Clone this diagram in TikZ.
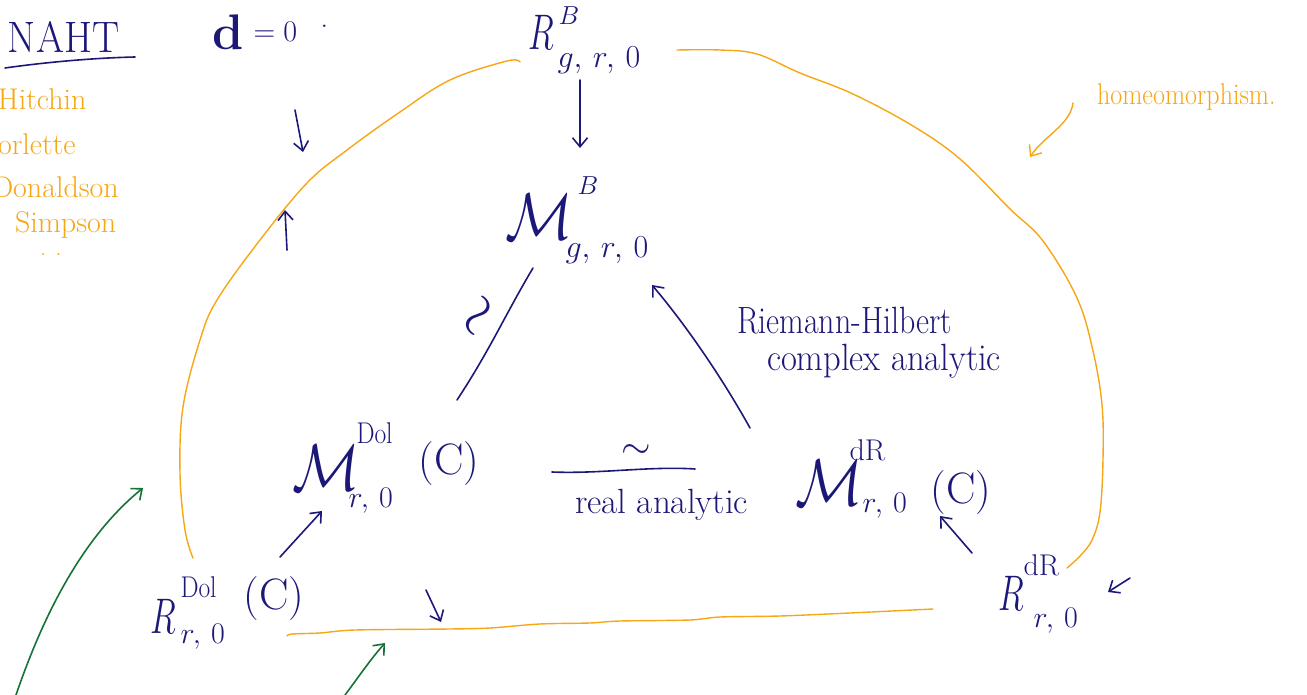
\RequirePackage{fix-cm}
\documentclass[tikz,border=0pt]{standalone}
\usepackage{fontspec}
\usepackage{graphicx}
\usetikzlibrary{arrows.meta}
\newcommand{\fz}[1]{\fontsize{#1}{#1}\selectfont}
% a piece of a label, placed dx right of and dy above the label's origin
\newcommand{\piece}[3]{\rlap{\hspace{#1pt}\raisebox{#2pt}{#3}}}
\newcommand{\bigR}{\scalebox{0.68}[1]{\fz{50}$R$}}
\newcommand{\bigM}{\scalebox{0.85}[1]{\fz{66}$\mathcal{M}$}}
\newcommand{\supB}{\fz{26}$B$}
\newcommand{\supDol}{\scalebox{0.85}[1]{\fz{30}Dol}}
\newcommand{\supdR}{\fz{30}dR}
\newcommand{\subgr}{\fz{32}$g,\,r,\,0$}
\newcommand{\subr}{\fz{30}$r,\,0$}
\newcommand{\cpx}{\fz{44}(C)}
\definecolor{ink}{RGB}{28,24,120}
\definecolor{hl}{RGB}{247,166,20}
\definecolor{gr}{RGB}{20,115,55}
\tikzset{
  lbl/.style={inner sep=0pt, outer sep=0pt, text=ink, anchor=base west},
  olist/.style={lbl, text=hl, font=\fz{30}},
  pen/.style={draw=ink, line width=1.6pt, line cap=round, line join=round},
  hpen/.style={draw=hl, line width=1.4pt, line cap=round, line join=round},
  gpen/.style={draw=gr, line width=1.6pt, line cap=round, line join=round},
  arr/.style={-{Straight Barb[length=9pt,width=15pt,line width=1.6pt]}},
}
\begin{document}
\begin{tikzpicture}[x=1pt,y=-1pt]
\useasboundingbox (0,0) rectangle (1307,695);
% ---- headings
\node[lbl] (naht) at (8,53) {\fz{44}\scalebox{0.92}[1]{NAHT}};
\draw[pen] (5,68) .. controls (40,63) and (90,58) .. (135,57);
\node[lbl] (d0) at (212,50) {\piece{0}{0}{\fz{50}\bfseries d}\piece{41}{8}{\fz{30}$=0$}\piece{108}{22}{\fz{30}.}\hspace{115pt}};
\node[olist] (hit) at (-2,110) {Hitchin};
\node[olist] (cor) at (-22,155) {Corlette};
\node[olist] (don) at (-8,198) {Donaldson};
\node[olist] (sim) at (15,233) {Simpson};
\node[olist, font=\fz{24}] (etc) at (40,256) {. .};
\node[lbl, text=hl] (homeo) at (1097,105) {\fz{30}\scalebox{0.87}[1]{homeomorphism.}};
% ---- main objects
\node[lbl] (RB) at (528,50) {\piece{0}{0}{\bigR}\piece{30}{25}{\supB}\piece{29}{-18}{\subgr}\hspace{115pt}};
\node[lbl] (MB) at (505,240) {\piece{0}{0}{\bigM}\piece{72}{45}{\supB}\piece{60}{-18}{\subgr}\hspace{155pt}};
\node[lbl] (MDol) at (292,490) {\piece{0}{0}{\bigM}\piece{64}{47}{\supDol}\piece{56}{-17}{\subr}\piece{126}{16}{\cpx}\hspace{190pt}};
\node[lbl] (MdR) at (795,505) {\piece{0}{0}{\bigM}\piece{54}{45}{\supdR}\piece{67}{-7}{\subr}\piece{135}{2}{\cpx}\hspace{190pt}};
\node[lbl] (RDol) at (150,633) {\piece{0}{0}{\bigR}\piece{30}{36}{\supDol}\piece{30}{-10}{\subr}\piece{93}{24}{\cpx}\hspace{145pt}};
\node[lbl] (RdR) at (998,610) {\piece{0}{0}{\bigR}\piece{25}{35}{\supdR}\piece{35}{-17}{\subr}\hspace{80pt}};
% ---- labels
\node[lbl] (rh) at (737,333) {\fz{38}\scalebox{0.84}[1]{Riemann-Hilbert}};
\node[lbl] (ca) at (767,370) {\fz{38}\scalebox{0.91}[1]{complex analytic}};
\node[lbl, font=\fz{35}] (ra) at (575,513) {real analytic};
\node[inner sep=0pt, text=ink, font=\fz{38}] (t1) at (636,452) {$\sim$};
\node[inner sep=0pt, text=ink, font=\fz{58}, rotate=60] (t2) at (482,318) {$\sim$};
% ---- connector end points
\coordinate (rb-s) at (580,80);
\coordinate (mb-n) at (580,148);
\coordinate (mb-sw) at (533,268);
\coordinate (mdol-ne) at (457,400);
\coordinate (mdr-n) at (750,428);
\coordinate (mb-se) at (652,285);
\coordinate (mdol-e) at (552,472);
\coordinate (mdr-w) at (695,469);
\coordinate (rdol-ne) at (280,557);
\coordinate (mdol-s) at (322,511);
\coordinate (rdr-nw) at (972,553);
\coordinate (mdr-s) at (940,516);
% ---- navy connectors
\draw[pen, arr] (rb-s) -- (mb-n);
\draw[pen] (mb-sw) .. controls (505,315) and (490,350) .. (mdol-ne);
\draw[pen, arr] (mdr-n) .. controls (725,383) and (690,330) .. (mb-se);
\draw[pen] (mdol-e) .. controls (600,474) and (650,466) .. (mdr-w);
\draw[pen, arr] (rdol-ne) -- (mdol-s);
\draw[pen, arr] (rdr-nw) -- (mdr-s);
% ---- small navy arrows
\draw[pen, arr] (295,110) -- (303,152);
\draw[pen, arr] (287,250) -- (285,210);
\draw[pen, arr] (426,590) -- (441,622);
\draw[pen, arr] (1130,578) -- (1108,592);
% ---- orange curves
\draw[hpen] plot[smooth, tension=0.6] coordinates {(520,62) (507,61) (450,80) (400,112) (347,150) (307,183) (260,240) (217,300) (200,340) (183,407) (180,473) (185,530) (193,558)};
\draw[hpen] plot[smooth, tension=0.6] coordinates {(677,50) (720,50) (757,54) (800,73) (853,94) (913,126) (960,159) (1010,209) (1043,241) (1077,298) (1093,351) (1102,405) (1103,459) (1100,512) (1092,540) (1080,556) (1067,568)};
\draw[hpen] plot[smooth, tension=0.5] coordinates {(287,636) (292,634) (320,633) (355,630) (450,629) (490,628) (540,624) (590,623) (620,621) (690,620) (720,617) (780,616) (850,613) (933,609)};
\draw[hpen, -{Straight Barb[length=9pt,width=15pt,line width=1.4pt]}] (1073,103) .. controls (1070,125) and (1045,135) .. (1030,157);
% ---- green arrows
\draw[gpen, arr] (16,695) .. controls (45,610) and (85,535) .. (143,488);
\draw[gpen, arr] (345,695) .. controls (360,675) and (370,660) .. (385,643);
\end{tikzpicture}
\end{document}
